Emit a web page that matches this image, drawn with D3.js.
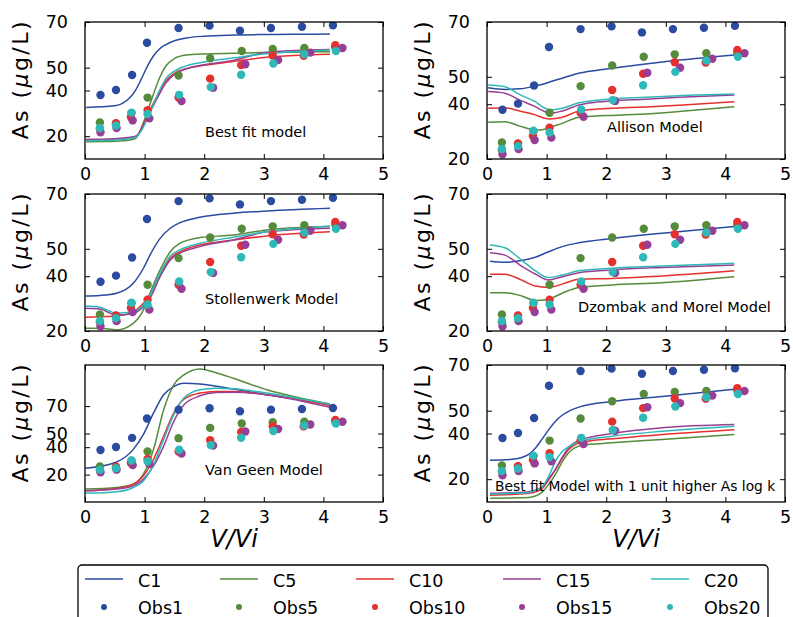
<!DOCTYPE html>
<html><head><meta charset="utf-8">
<script src="https://cdn.jsdelivr.net/npm/d3@7"></script>
<style>body{margin:0;background:#fff} text{font-family:"DejaVu Sans",sans-serif}</style>
</head><body><svg id="c" width="793" height="617"></svg>
<script>
// ---------- data ----------
const xTicks = [0, 1, 2, 3, 4, 5];
const yTicks = [20, 40, 50, 70];
const lineNames = ["C1", "C5", "C10", "C15", "C20"];
const obsNames = ["Obs1", "Obs5", "Obs10", "Obs15", "Obs20"];
const panelTitles = ["Best fit model", "Allison Model", "Stollenwerk Model",
  "Dzombak and Morel Model", "Van Geen Model", "Best fit Model with 1 unit higher As log k"];
const yDomains = [[10, 70], [20, 70], [20, 70], [20, 70], [0, 100], [10, 70]];

// observations (same in every panel)
const obsX1 = [0.26, 0.52, 0.79, 1.04, 1.57, 2.09, 2.60, 3.12, 3.64, 4.16];
const obsY1 = [38.0, 40.2, 46.8, 60.9, 67.4, 68.4, 66.2, 67.4, 67.9, 68.6];
const obsX5 = [0.25, 0.52, 0.78, 1.05, 1.57, 2.10, 2.63, 3.15, 3.68, 4.20];
const obsY5 = [26.0, 25.5, 30.1, 36.9, 46.6, 54.1, 57.3, 58.2, 58.6, 58.8];
const obsX10 = [0.25, 0.52, 0.77, 1.05, 1.57, 2.10, 2.62, 3.15, 3.67, 4.20];
const obsY10 = [23.3, 25.7, 28.4, 31.4, 36.9, 45.2, 51.1, 55.3, 55.2, 59.8];
const obsX15 = [0.26, 0.53, 0.80, 1.08, 1.62, 2.15, 2.69, 3.24, 3.78, 4.32];
const obsY15 = [21.7, 23.6, 26.9, 27.8, 35.4, 41.2, 51.5, 53.3, 56.6, 58.6];
const obsX20 = [0.25, 0.52, 0.78, 1.05, 1.58, 2.11, 2.62, 3.16, 3.68, 4.21];
const obsY20 = [23.6, 24.7, 30.3, 29.7, 38.1, 41.5, 46.9, 51.8, 55.9, 57.3];

// panel 1: Best fit model
const bestX = [0.02, 0.5, 0.75, 0.85, 0.95, 1.05, 1.15, 1.25, 1.35, 1.5, 1.7, 2.0, 2.5, 3.0, 3.5, 4.11];
const bestC1 = [32.6, 33.3, 36.8, 40.2, 45.3, 50.8, 55.2, 58.2, 60.0, 61.8, 63.0, 63.8, 64.3, 64.5, 64.6, 64.7];
const bestC5 = [17.6, 17.8, 18.3, 19.0, 24.0, 31.0, 38.5, 45.5, 50.5, 54.0, 55.5, 56.0, 56.3, 56.6, 56.8, 57.0];
const bestC10 = [18.3, 18.6, 19.2, 19.8, 23.5, 29.5, 34.5, 39.5, 44.0, 47.5, 49.5, 51.0, 52.8, 54.4, 55.3, 55.9];
const bestC15 = [18.6, 18.9, 19.5, 20.0, 23.0, 28.5, 33.5, 38.5, 43.0, 47.0, 49.5, 51.3, 53.3, 56.5, 57.5, 58.0];
const bestC20 = [18.0, 18.3, 19.0, 19.6, 22.5, 28.0, 34.0, 40.0, 45.0, 48.5, 50.8, 52.5, 54.3, 56.0, 57.0, 57.7];

// panel 2: Allison Model
const allisonX = [0.02, 0.3, 0.55, 0.81, 0.95, 1.06, 1.26, 1.54, 1.82, 2.1, 2.66, 3.22, 4.15];
const allisonC1 = [46.0, 45.4, 45.6, 46.6, 47.4, 48.2, 49.5, 51.3, 52.3, 53.1, 54.7, 56.1, 58.0];
const allisonC5 = [33.4, 33.6, 32.0, 30.6, 30.8, 31.6, 33.0, 35.2, 35.7, 35.9, 36.4, 37.3, 39.1];
const allisonC10 = [38.5, 38.7, 37.5, 36.1, 35.0, 34.6, 35.2, 37.5, 38.2, 38.5, 39.0, 39.6, 40.9];
const allisonC15 = [44.6, 44.0, 41.5, 39.1, 37.5, 36.7, 37.5, 39.7, 40.7, 41.2, 41.8, 42.5, 43.4];
const allisonC20 = [47.0, 46.4, 43.5, 40.9, 38.8, 37.9, 38.5, 40.5, 41.4, 41.9, 42.5, 43.1, 43.7];

// panel 3: Stollenwerk Model
const stollX = [0.01, 0.25, 0.53, 0.81, 0.98, 1.09, 1.26, 1.43, 1.59, 1.93, 2.49, 3.05, 4.11];
const stollC1 = [32.8, 33.0, 33.8, 37.4, 42.9, 47.7, 53.8, 57.5, 59.5, 61.5, 63.0, 63.8, 64.8];
const stollC5 = [21.0, 21.0, 20.4, 22.8, 27.7, 33.8, 42.3, 48.9, 52.0, 54.1, 55.0, 56.9, 58.1];
const stollC10 = [25.0, 25.2, 25.5, 27.0, 30.1, 33.1, 40.4, 46.5, 48.9, 51.4, 53.2, 54.7, 56.2];
const stollC15 = [28.3, 28.0, 25.8, 26.5, 28.9, 31.9, 39.8, 45.9, 48.4, 50.8, 53.2, 56.2, 57.5];
const stollC20 = [29.1, 28.7, 26.5, 27.0, 29.5, 33.1, 41.0, 47.4, 49.6, 52.0, 54.2, 56.2, 58.3];

// panel 4: Dzombak and Morel Model
const dzX = [0.05, 0.3, 0.58, 0.81, 1.03, 1.26, 1.54, 2.1, 2.94, 4.15];
const dzC1 = [45.5, 45.1, 45.7, 46.9, 48.9, 50.8, 52.2, 53.8, 55.7, 58.1];
const dzC5 = [34.0, 34.0, 32.8, 31.1, 31.6, 33.8, 35.9, 36.8, 37.6, 39.8];
const dzC10 = [40.7, 40.7, 38.6, 36.4, 35.9, 37.1, 38.9, 39.2, 40.1, 42.0];
const dzC15 = [48.6, 47.7, 43.7, 40.8, 38.6, 39.8, 41.3, 42.3, 43.2, 44.1];
const dzC20 = [51.4, 50.4, 45.9, 42.0, 39.5, 40.4, 42.0, 42.9, 43.7, 44.7];

// panel 5: Van Geen Model
const vgX = [0.01, 0.53, 0.81, 0.98, 1.15, 1.32, 1.49, 1.66, 1.93, 2.2, 2.49, 3.05, 3.61, 4.11];
const vgC1 = [24.6, 29.2, 38.4, 49.3, 65.0, 78.3, 84.3, 86.7, 86.2, 84.5, 82.4, 78.3, 74.6, 71.0];
const vgC5 = [9.4, 10.6, 13.0, 20.3, 38.4, 67.4, 85.5, 92.8, 97.1, 94.4, 90.3, 81.9, 75.9, 71.5];
const vgC10 = [8.2, 9.9, 13.0, 19.1, 31.2, 48.1, 65.0, 75.1, 79.5, 80.7, 80.7, 78.3, 74.6, 70.5];
const vgC15 = [8.2, 9.5, 11.8, 16.7, 26.3, 40.8, 58.9, 71.0, 77.5, 79.9, 80.2, 78.3, 73.9, 69.1];
const vgC20 = [6.3, 7.5, 10.6, 15.4, 27.5, 45.7, 63.8, 75.9, 81.9, 83.1, 82.6, 79.5, 75.4, 71.5];

// panel 6: Best fit model with 1 unit higher As log k
const hiX = [0.05, 0.42, 0.7, 0.81, 0.92, 1.03, 1.15, 1.26, 1.37, 1.59, 2.1, 2.94, 4.15];
const hiC1 = [28.3, 28.7, 30.9, 33.5, 37.4, 41.5, 45.4, 48.0, 49.7, 51.9, 54.0, 56.2, 59.4];
const hiC5 = [11.6, 11.8, 12.0, 12.6, 14.2, 17.5, 22.2, 27.5, 31.6, 34.8, 35.9, 37.4, 39.6];
const hiC10 = [13.0, 13.3, 13.8, 14.4, 15.7, 19.5, 24.3, 29.0, 33.0, 36.2, 37.7, 39.6, 41.7];
const hiC15 = [13.8, 14.1, 14.5, 15.2, 16.4, 20.0, 24.3, 29.5, 33.8, 37.4, 40.0, 42.5, 43.9];
const hiC20 = [13.5, 13.8, 14.2, 15.0, 16.4, 21.0, 28.0, 32.0, 34.2, 36.7, 38.8, 41.0, 43.2];

// ---------- styles / layout ----------
const colors = ["#2b4ba0", "#558b3b", "#e5302e", "#973f96", "#2fb8b8"];
const colLeft = [85, 487], plotW = 298;
const rowTop = [22, 194, 365], plotH = 137;
const titlePos = [[120, 115], [120, 110], [120, 110], [91, 118], [120, 110], [8, 126]];
const titleSize = ["14.5px", "14.5px", "14.5px", "14.5px", "14.5px", "13.8px"];

const obsXs = [obsX1, obsX5, obsX10, obsX15, obsX20];
const obsYs = [obsY1, obsY5, obsY10, obsY15, obsY20];
const panelX = [bestX, allisonX, stollX, dzX, vgX, hiX];
const panelLines = [
  [bestC1, bestC5, bestC10, bestC15, bestC20],
  [allisonC1, allisonC5, allisonC10, allisonC15, allisonC20],
  [stollC1, stollC5, stollC10, stollC15, stollC20],
  [dzC1, dzC5, dzC10, dzC15, dzC20],
  [vgC1, vgC5, vgC10, vgC15, vgC20],
  [hiC1, hiC5, hiC10, hiC15, hiC20]];
const panelObs = [[0,1,2,3,4],[0,1,2,3,4],[0,1,2,3,4],[1,2,3,4],[0,1,2,3,4],[0,1,2,3,4]];

const svg = d3.select("#c");
svg.append("rect").attr("width", 793).attr("height", 617).attr("fill", "#fff");

panelTitles.forEach((title, p) => {
  const col = p % 2, row = Math.floor(p / 2);
  const left = colLeft[col], top = rowTop[row];
  const x = d3.scaleLinear().domain([0, 5]).range([0, plotW]);
  const y = d3.scaleLinear().domain(yDomains[p]).range([plotH, 0]);
  const g = svg.append("g").attr("transform", `translate(${left},${top})`);
  const cid = "clip" + p;
  g.append("clipPath").attr("id", cid).append("rect").attr("width", plotW).attr("height", plotH);
  const body = g.append("g").attr("clip-path", `url(#${cid})`);

  const line = d3.line().x(d => x(d[0])).y(d => y(d[1])).curve(d3.curveMonotoneX);
  panelLines[p].forEach((ys, i) => {
    const pts = panelX[p].map((xv, k) => [xv, ys[k]]);
    body.append("path").attr("d", line(pts)).attr("fill", "none")
      .attr("stroke", colors[i]).attr("stroke-width", 1.5);
  });
  panelObs[p].forEach(i => {
    body.selectAll(null).data(obsXs[i].map((xv, k) => [xv, obsYs[i][k]])).enter()
      .append("circle").attr("cx", d => x(d[0])).attr("cy", d => y(d[1]))
      .attr("r", 4.2).attr("fill", colors[i]);
  });

  const fs = "17.5px";
  const fmt = d3.format("d");
  const ax = g.append("g").attr("transform", `translate(0,${plotH})`)
    .call(d3.axisBottom(x).tickValues(xTicks).tickFormat(fmt).tickSize(-5).tickPadding(9).tickSizeOuter(0));
  const ay = g.append("g").call(d3.axisLeft(y).tickValues(yTicks).tickFormat(fmt).tickSize(-5).tickPadding(17).tickSizeOuter(0));
  const at = g.append("g").call(d3.axisTop(x).tickValues(xTicks).tickSize(-5).tickFormat("").tickSizeOuter(0));
  const ar = g.append("g").attr("transform", `translate(${plotW},0)`)
    .call(d3.axisRight(y).tickValues(yTicks).tickSize(-5).tickFormat("").tickSizeOuter(0));
  [ax, ay, at, ar].forEach(a => {
    a.select(".domain").remove();
    a.selectAll("line").attr("stroke", "#000").attr("stroke-width", 1);
    a.selectAll("text").attr("font-size", fs).attr("fill", "#000")
      .attr("font-family", "DejaVu Sans");
  });
  g.append("rect").attr("width", plotW).attr("height", plotH).attr("fill", "none")
    .attr("stroke", "#000").attr("stroke-width", 1.3);

  g.append("text").attr("x", titlePos[p][0]).attr("y", titlePos[p][1])
    .attr("font-size", titleSize[p]).attr("fill", "#000").text(title);

  // y label
  svg.append("text").attr("transform", `translate(${28 + col * 402},${top + plotH / 2 - 10}) rotate(-90)`)
    .attr("text-anchor", "middle").attr("font-size", "22px").attr("fill", "#000")
    .attr("textLength", 118).attr("lengthAdjust", "spacing")
    .html('As (<tspan font-style="italic">μ</tspan>g/L)');

  if (row === 2) {
    svg.append("text").attr("x", left + plotW / 2).attr("y", 547)
      .attr("text-anchor", "middle").attr("font-size", "24px")
      .attr("font-family", "Liberation Serif").attr("font-style", "italic")
      .attr("fill", "#000").text("V/Vi");
  }
});

// legend
const lg = svg.append("g");
lg.append("rect").attr("x", 78).attr("y", 565).attr("width", 690).attr("height", 80)
  .attr("rx", 4).attr("fill", "#fff").attr("stroke", "#000").attr("stroke-width", 1.3);
const legX = [85, 220, 356, 503, 651];
lineNames.forEach((name, i) => {
  lg.append("line").attr("x1", legX[i]).attr("x2", legX[i] + 38).attr("y1", 579).attr("y2", 579)
    .attr("stroke", colors[i]).attr("stroke-width", 1.5);
  lg.append("text").attr("x", legX[i] + 53).attr("y", 587).attr("font-size", "17.5px").text(name);
  lg.append("circle").attr("cx", legX[i] + 19).attr("cy", 607).attr("r", 3).attr("fill", colors[i]);
  lg.append("text").attr("x", legX[i] + 53).attr("y", 614).attr("font-size", "17.5px").text(obsNames[i]);
});
</script></body></html>
